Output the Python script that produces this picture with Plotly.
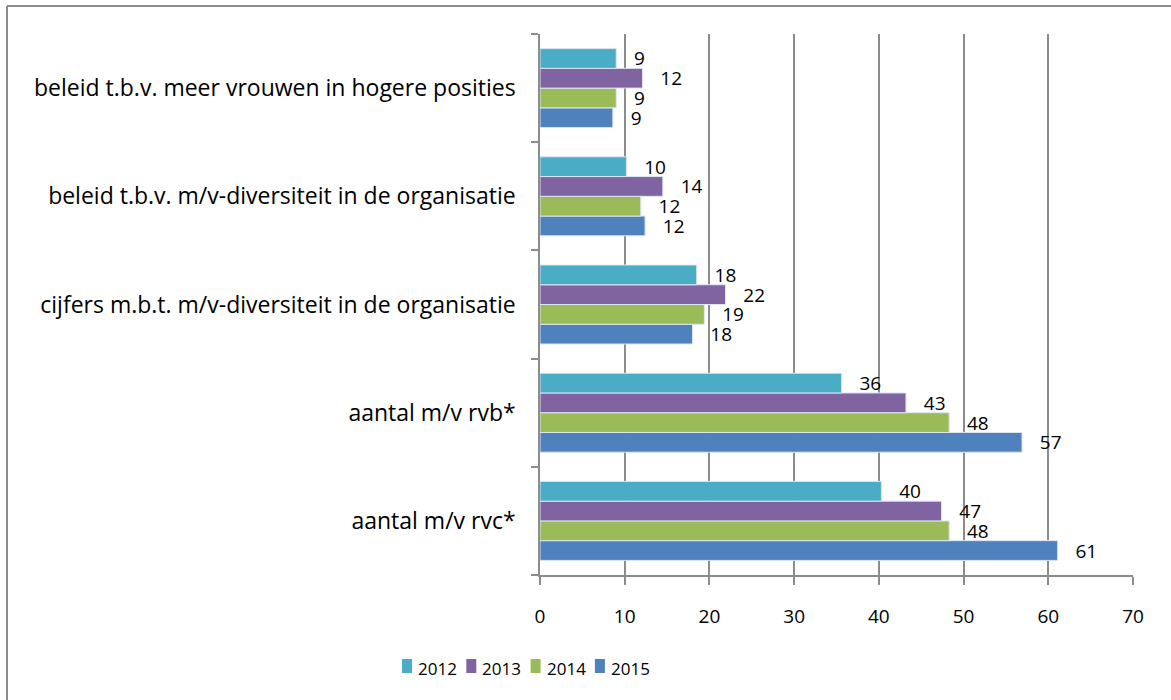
import plotly.graph_objects as go

categories = [
    "aantal m/v rvc*",
    "aantal m/v rvb*",
    "cijfers m.b.t. m/v-diversiteit in de organisatie",
    "beleid t.b.v. m/v-diversiteit in de organisatie",
    "beleid t.b.v. meer vrouwen in hogere posities",
]
years = ["2015", "2014", "2013", "2012"]
legend_years = ["2012", "2013", "2014", "2015"]
values_2012 = [40.3, 35.6, 18.5, 10.2, 9.0]
values_2013 = [47.4, 43.2, 21.9, 14.5, 12.1]
values_2014 = [48.3, 48.3, 19.4, 11.9, 9.0]
values_2015 = [61.1, 56.9, 18.0, 12.4, 8.6]
series = {"2012": values_2012, "2013": values_2013, "2014": values_2014, "2015": values_2015}
colors = {"2012": "#4BACC6", "2013": "#8064A2", "2014": "#9BBB59", "2015": "#4F81BD"}
x_ticks = [0, 10, 20, 30, 40, 50, 60, 70]

FONT = "Open Sans"
fig = go.Figure()
for yr in years:
    vals = series[yr]
    fig.add_trace(go.Bar(
        y=categories, x=vals, name=yr, orientation="h",
        marker=dict(color=colors[yr], line=dict(color="#DCE6F2", width=1)),
        text=["   %d" % round(v) for v in vals],
        textposition="outside", cliponaxis=False, constraintext="none",
        textfont=dict(family=FONT, size=19, color="#000000"),
        hoverinfo="skip", showlegend=False,
    ))

# plot area px geometry: left 540, right 1133, top 34, bottom 575
L, R, T, B = 540, 1133, 34, 575
W, H = R - L, B - T

def px(x):
    return (x - L) / W

def py(y):
    return (B - y) / H

shapes = [
    dict(type="line", xref="paper", yref="paper", x0=px(7), x1=px(1172), y0=py(6), y1=py(6),
         line=dict(color="#8C8C8C", width=2)),
    dict(type="line", xref="paper", yref="paper", x0=px(7), x1=px(7), y0=py(6), y1=py(701),
         line=dict(color="#8C8C8C", width=2)),
]
annotations = []
# manual legend (Excel-style compact spacing)
for i, yr in enumerate(legend_years):
    x0 = 402 + 64.3 * i
    shapes.append(dict(type="rect", xref="paper", yref="paper",
                       x0=px(x0), x1=px(x0 + 10), y0=py(673), y1=py(659),
                       fillcolor=colors[yr], line=dict(width=0)))
    annotations.append(dict(xref="paper", yref="paper", x=px(x0 + 14), y=py(668),
                            xanchor="left", yanchor="middle", showarrow=False,
                            text=yr, font=dict(family=FONT, size=17, color="#000000")))

fig.update_layout(
    width=1171, height=700,
    margin=dict(l=L, r=1171 - R, t=T, b=700 - B, pad=0),
    paper_bgcolor="white", plot_bgcolor="white",
    barmode="group", bargap=0.27, bargroupgap=0,
    font=dict(family=FONT, color="#000000"),
    showlegend=False,
    xaxis=dict(
        range=[0, 70], tickvals=x_ticks, ticktext=[str(t) for t in x_ticks],
        showgrid=True, gridcolor="#8C8C8C", gridwidth=1.5,
        showline=True, linecolor="#8C8C8C", linewidth=1.5,
        ticks="outside", ticklen=8, tickcolor="#8C8C8C", tickwidth=1.5,
        tickfont=dict(family=FONT, size=19, color="#000000"),
        ticklabelstandoff=15,
        zeroline=False, fixedrange=True, automargin=False,
    ),
    yaxis=dict(
        type="category", categoryorder="array", categoryarray=categories,
        showline=True, linecolor="#8C8C8C", linewidth=1.5,
        ticks="outside", ticklen=7, tickcolor="#8C8C8C", tickwidth=1.5,
        tickson="boundaries", showgrid=False,
        tickfont=dict(family=FONT, size=23, color="#000000"),
        ticklabelstandoff=18, automargin=False, fixedrange=True,
    ),
    shapes=shapes,
    annotations=annotations,
)

fig.write_html(
    "out.html",
    config={"displayModeBar": False},
    post_script="document.body.style.margin='0';document.body.style.overflow='hidden';",
)
